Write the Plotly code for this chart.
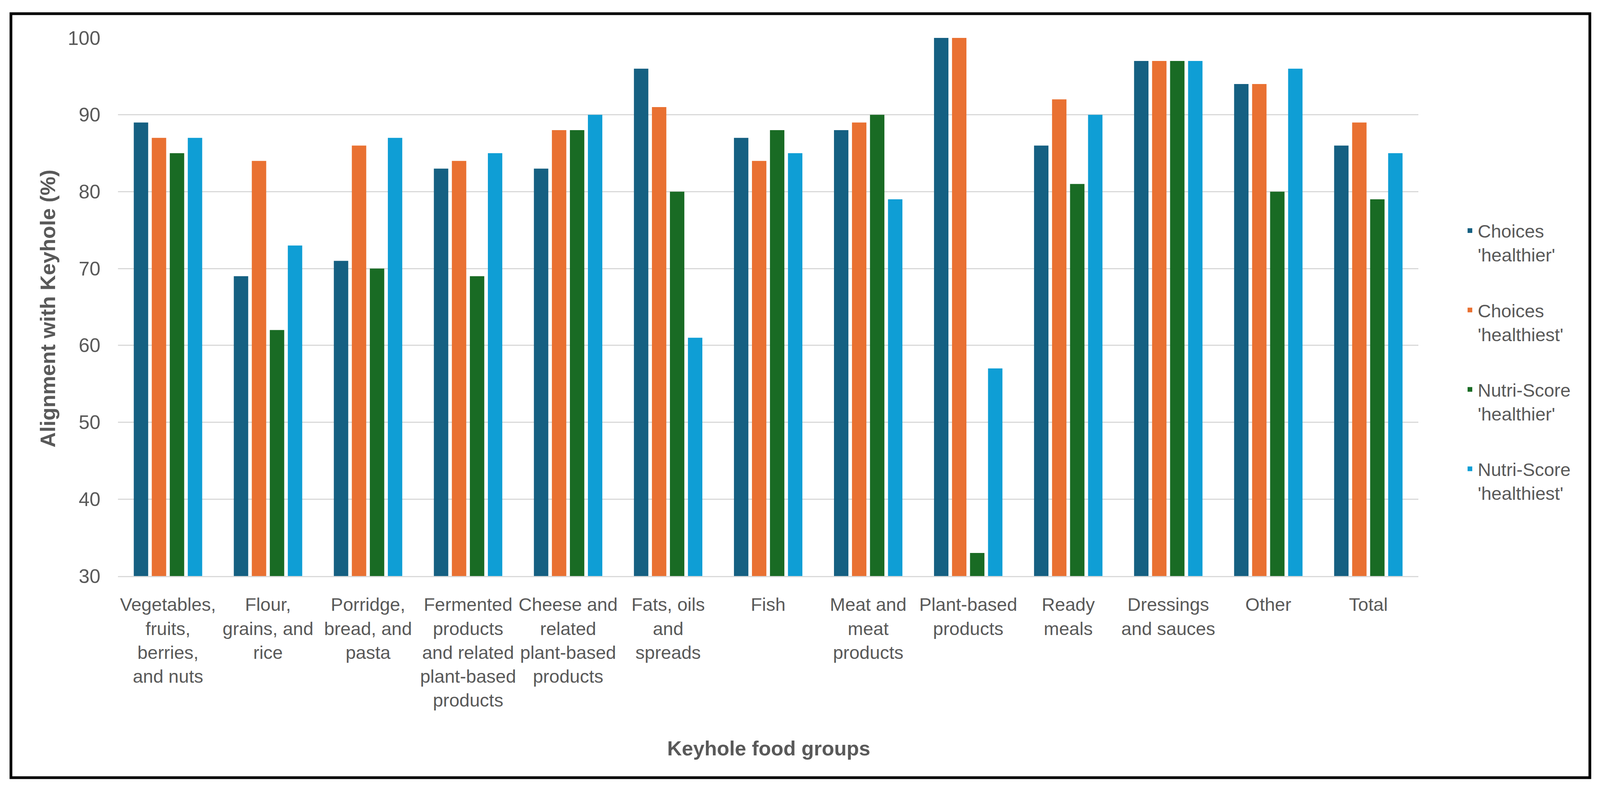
import plotly.graph_objects as go

categories = [
    "Vegetables,<br>fruits,<br>berries,<br>and nuts",
    "Flour,<br>grains, and<br>rice",
    "Porridge,<br>bread, and<br>pasta",
    "Fermented<br>products<br>and related<br>plant-based<br>products",
    "Cheese and<br>related<br>plant-based<br>products",
    "Fats, oils<br>and<br>spreads",
    "Fish",
    "Meat and<br>meat<br>products",
    "Plant-based<br>products",
    "Ready<br>meals",
    "Dressings<br>and sauces",
    "Other",
    "Total",
]

choices_healthier = [89, 69, 71, 83, 83, 96, 87, 88, 100, 86, 97, 94, 86]
choices_healthiest = [87, 84, 86, 84, 88, 91, 84, 89, 100, 92, 97, 94, 89]
nutri_healthier = [85, 62, 70, 69, 88, 80, 88, 90, 33, 81, 97, 80, 79]
nutri_healthiest = [87, 73, 87, 85, 90, 61, 85, 79, 57, 90, 97, 96, 85]

series_names = [
    "Choices<br>'healthier'",
    "Choices<br>'healthiest'",
    "Nutri-Score<br>'healthier'",
    "Nutri-Score<br>'healthiest'",
]
series_values = [choices_healthier, choices_healthiest, nutri_healthier, nutri_healthiest]
colors = ["#156082", "#E97132", "#196B24", "#0F9ED5"]

y_ticks = [30, 40, 50, 60, 70, 80, 90, 100]

W, H = 4096, 2019
L, R, T, B = 302, 465, 97, 545
pw, ph = W - L - R, H - T - B


def px_x(x):
    return (x - L) / pw


def px_y(y):
    return (H - B - y) / ph


FONT = "Liberation Sans, Arial, sans-serif"
GREY = "#595959"

fig = go.Figure()
for i, (name, vals, col) in enumerate(zip(series_names, series_values, colors)):
    fig.add_trace(go.Bar(
        x=categories, y=vals, name=name, marker_color=col,
        marker_line_width=0, legendgroup=f"g{i}",
    ))

fig.update_layout(
    width=W, height=H,
    margin=dict(l=L, r=R, t=T, b=B),
    paper_bgcolor="white", plot_bgcolor="white",
    barmode="group", bargap=0.28, bargroupgap=0.2,
    font=dict(family=FONT, color=GREY, size=47),
    showlegend=True,
    legend=dict(
        x=px_x(3743), xanchor="left", y=px_y(553), yanchor="top",
        font=dict(family=FONT, size=47, color=GREY),
        tracegroupgap=78, valign="top", bgcolor="rgba(0,0,0,0)",
    ),
    xaxis=dict(
        showgrid=False, showline=True, linecolor="#D9D9D9", linewidth=3,
        ticks="", tickfont=dict(family=FONT, size=47, color=GREY), ticklabelstandoff=30,
        tickangle=0,
    ),
    yaxis=dict(
        range=[30, 100], tickvals=y_ticks, showgrid=True, gridcolor="#D9D9D9", gridwidth=3,
        zeroline=False, showline=False, ticks="",
        tickfont=dict(family=FONT, size=50, color=GREY), ticklabelstandoff=44,
    ),
    shapes=[dict(
        type="rect", xref="paper", yref="paper",
        x0=px_x(28), x1=px_x(4070), y0=px_y(1990), y1=px_y(35),
        line=dict(color="black", width=7), fillcolor="rgba(0,0,0,0)", layer="above",
    )],
    annotations=[
        dict(text="<b>Keyhole food groups</b>", xref="paper", yref="paper",
             x=px_x(1968), y=px_y(1915), xanchor="center", yanchor="middle", showarrow=False,
             font=dict(family=FONT, size=52, color=GREY)),
        dict(text="<b>Alignment with Keyhole (%)</b>", xref="paper", yref="paper",
             x=px_x(122), y=px_y(790), xanchor="center", yanchor="middle", showarrow=False,
             textangle=-90,
             font=dict(family=FONT, size=54, color=GREY)),
    ],
)

post = "document.body.style.margin='0';document.body.style.overflow='hidden';"
fig.write_html("out.html", post_script=post, config={"displayModeBar": False})
